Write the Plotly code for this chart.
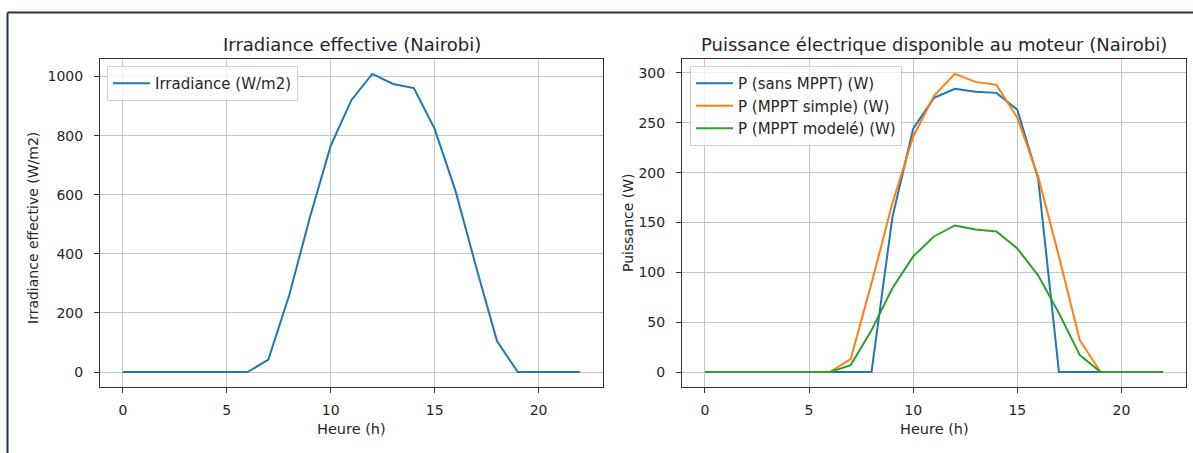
import plotly.graph_objects as go

# Hourly data for Nairobi
hours = list(range(23))
irradiance = [0, 0, 0, 0, 0, 0, 0, 42, 259, 524, 766, 921, 1009, 975, 961,
              823, 614, 355, 105, 0, 0, 0, 0]
p_sans_mppt = [0, 0, 0, 0, 0, 0, 0, 0, 0, 155, 244, 275, 284, 281, 280,
               263, 194, 0, 0, 0, 0, 0, 0]
p_mppt_simple = [0, 0, 0, 0, 0, 0, 0, 13, 89, 169, 236, 277, 299, 291, 288,
                 255, 196, 116, 32, 0, 0, 0, 0]
p_mppt_modele = [0, 0, 0, 0, 0, 0, 0, 7, 42, 84, 116, 136, 147, 143, 141,
                 124, 97, 59, 17, 0, 0, 0, 0]

x_ticks = [0, 5, 10, 15, 20]
irr_ticks = [0, 200, 400, 600, 800, 1000]
p_ticks = [0, 50, 100, 150, 200, 250, 300]

W, H = 1193, 453
FONT = "DejaVu Sans"
TXT = "#262626"
C_BLUE, C_ORANGE, C_GREEN = "#1f77b4", "#ff7f0e", "#2ca02c"


def px_x(p):
    return p / W


def px_y(p):
    return 1 - p / H


def padded(lo, hi, m=0.05):
    d = hi - lo
    return [lo - m * d, hi + m * d]


fig = go.Figure()

fig.add_trace(go.Scatter(x=hours, y=irradiance, mode="lines",
                         name="Irradiance (W/m2)",
                         line=dict(color=C_BLUE, width=2),
                         xaxis="x", yaxis="y", legend="legend"))

for vals, name, col in [(p_sans_mppt, "P (sans MPPT) (W)", C_BLUE),
                        (p_mppt_simple, "P (MPPT simple) (W)", C_ORANGE),
                        (p_mppt_modele, "P (MPPT modelé) (W)", C_GREEN)]:
    fig.add_trace(go.Scatter(x=hours, y=vals, mode="lines", name=name,
                             line=dict(color=col, width=2),
                             xaxis="x2", yaxis="y2", legend="legend2"))

axis_common = dict(
    showline=True, mirror=True, linecolor="#333333", linewidth=1,
    showgrid=True, gridcolor="#c4c4c4", gridwidth=1,
    zeroline=False, ticks="outside", ticklen=5, tickwidth=1,
    tickcolor="#333333", tickfont=dict(family=FONT, size=14, color=TXT),
)

xr = padded(min(hours), max(hours))
y1r = padded(min(irradiance), max(irradiance))
p_all = p_sans_mppt + p_mppt_simple + p_mppt_modele
y2r = padded(min(p_all), max(p_all))

legend_style = dict(xanchor="left", yanchor="top",
                    bgcolor="rgba(255,255,255,0.8)", bordercolor="#d0d0d0",
                    borderwidth=1, itemwidth=37,
                    font=dict(family=FONT, size=15, color=TXT))

fig.update_layout(
    width=W, height=H,
    margin=dict(l=0, r=0, t=0, b=0),
    paper_bgcolor="white", plot_bgcolor="white",
    font=dict(family=FONT, size=14, color=TXT),
    xaxis=dict(domain=[px_x(100), px_x(603)], range=xr, tickvals=x_ticks,
               anchor="y", ticklabelstandoff=5, **axis_common),
    yaxis=dict(domain=[px_y(387), px_y(59)], range=y1r, tickvals=irr_ticks,
               anchor="x", ticklabelstandoff=8, **axis_common),
    xaxis2=dict(domain=[px_x(682), px_x(1186)], range=xr, tickvals=x_ticks,
                anchor="y2", ticklabelstandoff=5, **axis_common),
    yaxis2=dict(domain=[px_y(387), px_y(59)], range=y2r, tickvals=p_ticks,
                anchor="x2", ticklabelstandoff=8, **axis_common),
    legend=dict(x=px_x(107), y=px_y(66), **legend_style),
    legend2=dict(x=px_x(690), y=px_y(66), **legend_style),
    showlegend=True,
)

# Titles and axis labels
annots = [
    dict(text="Irradiance effective (Nairobi)", x=px_x(351.5), y=px_y(44),
         size=18),
    dict(text="Puissance électrique disponible au moteur (Nairobi)",
         x=px_x(934), y=px_y(44), size=18),
    dict(text="Heure (h)", x=px_x(351.5), y=px_y(429), size=14.5),
    dict(text="Heure (h)", x=px_x(934), y=px_y(429), size=14.5),
    dict(text="Irradiance effective (W/m2)", x=px_x(33), y=px_y(228),
         size=14, angle=-90),
    dict(text="Puissance (W)", x=px_x(628), y=px_y(223), size=14, angle=-90),
]
for a in annots:
    fig.add_annotation(text=a["text"], x=a["x"], y=a["y"], xref="paper",
                       yref="paper", xanchor="center", yanchor="middle",
                       showarrow=False, textangle=a.get("angle", 0),
                       font=dict(family=FONT, size=a["size"], color=TXT))

# Frame around the figure (top and left edges)
frame = "#22364f"
fig.add_shape(type="line", xref="paper", yref="paper",
              x0=px_x(7.5), x1=1, y0=px_y(12.5), y1=px_y(12.5),
              line=dict(color=frame, width=2))
fig.add_shape(type="line", xref="paper", yref="paper",
              x0=px_x(7.5), x1=px_x(7.5), y0=0, y1=px_y(12.5),
              line=dict(color=frame, width=2))

fig.write_html("out.html")
